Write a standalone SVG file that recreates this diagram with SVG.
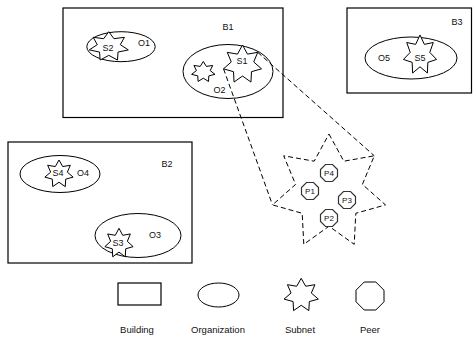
<svg xmlns="http://www.w3.org/2000/svg" xmlns:xlink="http://www.w3.org/1999/xlink" width="473" height="339" viewBox="0 0 473 339">
<style>
.bld{fill:none;stroke:#000;stroke-width:1.2}
.org{fill:none;stroke:#000;stroke-width:1}
.sub{fill:#fff;stroke:#000;stroke-width:1}
.peer{fill:#fff;stroke:#333;stroke-width:1.2}
.dash{fill:none;stroke:#000;stroke-width:1;stroke-dasharray:5 3}
text{font-family:"Liberation Sans",Arial,sans-serif;font-size:9px;fill:#111;text-anchor:middle}
.pl{font-size:8px}
.lg{font-size:9.5px}
</style>
<defs>
<polygon id="star" vector-effect="non-scaling-stroke" points="0,-1 0.256,-0.5316 0.7818,-0.6235 0.5752,-0.1313 0.9749,0.2225 0.4613,0.3679 0.4339,0.901 0,0.59 -0.4339,0.901 -0.4613,0.3679 -0.9749,0.2225 -0.5752,-0.1313 -0.7818,-0.6235 -0.256,-0.5316"/>
<polygon id="oct" points="8.5,-3.52 3.52,-8.5 -3.52,-8.5 -8.5,-3.52 -8.5,3.52 -3.52,8.5 3.52,8.5 8.5,3.52"/>
</defs>

<g id="B1">
<rect class="bld" x="63" y="8" width="220" height="109.5"/>
<text x="228" y="30">B1</text>
</g>
<g id="O1">
<ellipse class="org" cx="121" cy="46.7" rx="34.2" ry="15"/>
<text x="144" y="46">O1</text>
</g>
<g id="S2">
<use href="#star" class="sub" transform="translate(108.8 46.6) scale(20 14.9)"/>
<text x="108" y="51">S2</text>
</g>
<g id="O2">
<ellipse class="org" cx="228" cy="71.5" rx="45" ry="27"/>
<text x="219.5" y="93">O2</text>
</g>
<g id="S0">
<use href="#star" class="sub" transform="translate(203.3 72) scale(12 10.5)"/>
</g>
<g id="S1">
<use href="#star" class="sub" transform="translate(242.5 64.5) scale(19.5)"/>
<text x="242" y="64">S1</text>
</g>

<g id="B3">
<rect class="bld" x="347" y="8" width="124.5" height="85"/>
<text x="457" y="25">B3</text>
</g>
<g id="O5">
<ellipse class="org" cx="411" cy="58" rx="46" ry="21"/>
<text x="384" y="61">O5</text>
</g>
<g id="S5">
<use href="#star" class="sub" transform="translate(420 55) scale(17 20)"/>
<text x="420" y="61">S5</text>
</g>

<g id="B2">
<rect class="bld" x="8" y="142" width="184" height="121"/>
<text x="167" y="167">B2</text>
</g>
<g id="O4">
<ellipse class="org" cx="60" cy="174" rx="40" ry="18.5"/>
<text x="83" y="176">O4</text>
</g>
<g id="S4">
<use href="#star" class="sub" transform="translate(59 174) scale(14.5 14)"/>
<text x="58" y="176">S4</text>
</g>
<g id="O3">
<ellipse class="org" cx="138" cy="235.5" rx="43" ry="22"/>
<text x="155" y="238">O3</text>
</g>
<g id="S3">
<use href="#star" class="sub" transform="translate(119 243.3) scale(14.5 15)"/>
<text x="118" y="246">S3</text>
</g>

<g id="connectors">
<line class="dash" x1="223.5" y1="68.8" x2="272.5" y2="204.9"/>
<line class="dash" x1="257.7" y1="52.3" x2="374.3" y2="155.8"/>
</g>

<g id="S1-detail">
<polygon class="dash" points="329,134 343.8,161.2 374.3,155.8 362.4,184.4 385.5,204.9 355.8,213.3 354.2,244.3 329,226.2 303.8,244.3 302.2,213.3 272.5,204.9 295.6,184.4 283.7,155.8 314.2,161.2"/>
</g>
<g id="P4">
<use href="#oct" class="peer" transform="translate(329 173)"/>
<text class="pl" x="329" y="176">P4</text>
</g>
<g id="P1">
<use href="#oct" class="peer" transform="translate(310 191)"/>
<text class="pl" x="310" y="194">P1</text>
</g>
<g id="P3">
<use href="#oct" class="peer" transform="translate(347 200)"/>
<text class="pl" x="347" y="203">P3</text>
</g>
<g id="P2">
<use href="#oct" class="peer" transform="translate(329 218)"/>
<text class="pl" x="329" y="221">P2</text>
</g>

<g id="legend-building">
<rect class="bld" x="118" y="283" width="43" height="22"/>
<text class="lg" x="137" y="333">Building</text>
</g>
<g id="legend-organization">
<ellipse class="org" cx="218.5" cy="295" rx="20.5" ry="12"/>
<text class="lg" x="218" y="333">Organization</text>
</g>
<g id="legend-subnet">
<use href="#star" class="sub" transform="translate(301.2 295.3) scale(17.6 17)"/>
<text class="lg" x="300" y="333">Subnet</text>
</g>
<g id="legend-peer">
<polygon class="org" points="384,290.2 375.8,282 364.2,282 356,290.2 356,301.8 364.2,310 375.8,310 384,301.8"/>
<text class="lg" x="370" y="333">Peer</text>
</g>
</svg>
